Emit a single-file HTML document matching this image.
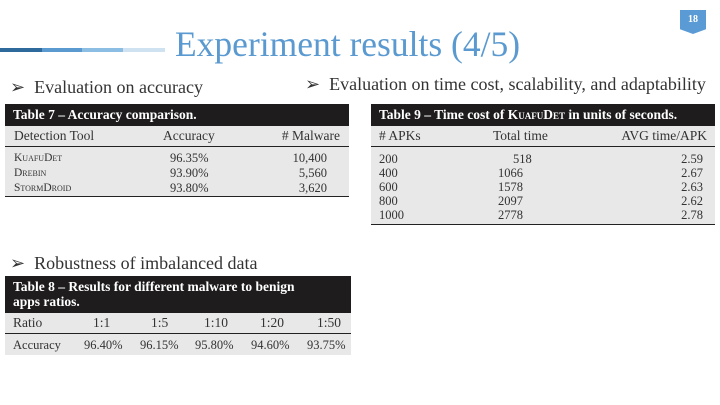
<!DOCTYPE html>
<html><head><meta charset="utf-8"><style>
body{margin:0;width:720px;height:405px;background:#fff;position:relative;overflow:hidden;font-family:"Liberation Serif",serif}
.a{position:absolute}
.tbl{position:absolute;background:#e8e8e8;color:#333;font-size:12.5px}
.cap{background:#1e1c1c;color:#fff;font-weight:bold;font-size:13.5px;padding:3px 8px;line-height:16px}
.row{position:relative;height:15px;line-height:15px}
.row span{position:absolute}
.hdr{height:20px;line-height:20px;border-bottom:1.5px solid #222;font-size:13.5px}
.sc{font-variant:small-caps;font-size:11.5px}
.bul{position:absolute;font-size:18px;color:#333;white-space:nowrap}
.t9 .row{height:14px;line-height:14px}
</style></head><body>
<div class="a" style="left:0;top:48px;width:165px;height:4px">
<div class="a" style="left:0;width:42px;height:4px;background:#2e6a9b"></div>
<div class="a" style="left:42px;width:40px;height:4px;background:#5a9ad0"></div>
<div class="a" style="left:82px;width:41px;height:4px;background:#8cbde3"></div>
<div class="a" style="left:123px;width:42px;height:4px;background:#cfe2f2"></div>
</div>
<div class="a" style="left:175px;top:23px;font-size:35.5px;color:#5a9ad0;white-space:nowrap">Experiment results (4/5)</div>
<div class="a" style="left:680px;top:10px;width:26px;height:24px;background:#5b9bd5;clip-path:polygon(0 0,100% 0,100% 80%,50% 100%,0 80%);color:#fff;font-size:10px;font-weight:bold;text-align:center;line-height:20px">18</div>

<div class="bul" style="left:10px;top:77px">➢&nbsp;&nbsp;Evaluation on accuracy</div>
<div class="bul" style="left:305px;top:74px">➢&nbsp;&nbsp;Evaluation on time cost, scalability, and adaptability</div>
<div class="bul" style="left:10px;top:253px">➢&nbsp;&nbsp;Robustness of imbalanced data</div>

<div class="tbl" style="left:5px;top:104px;width:344px;height:92px;border-bottom:1.5px solid #222">
<div class="cap">Table 7 – Accuracy comparison.</div>
<div class="row hdr"><span style="left:9px">Detection Tool</span><span style="left:158px">Accuracy</span><span style="right:9px"># Malware</span></div>
<div style="height:4px"></div>
<div class="row"><span class="sc" style="left:9px">KuafuDet</span><span style="left:165px">96.35%</span><span style="right:22px">10,400</span></div>
<div class="row"><span class="sc" style="left:9px">Drebin</span><span style="left:165px">93.90%</span><span style="right:22px">5,560</span></div>
<div class="row"><span class="sc" style="left:9px">StormDroid</span><span style="left:165px">93.80%</span><span style="right:22px">3,620</span></div>
</div>

<div class="tbl t9" style="left:371px;top:104px;width:344px;height:120px;border-bottom:1.5px solid #222">
<div class="cap">Table 9 – Time cost of <span style="font-variant:small-caps">KuafuDet</span> in units of seconds.</div>
<div class="row hdr" style="height:20px;line-height:20px"><span style="left:8px"># APKs</span><span style="left:122px">Total time</span><span style="right:8px">AVG time/APK</span></div>
<div style="height:5px"></div>
<div class="row"><span style="left:8px">200</span><span style="left:142px">518</span><span style="right:12px">2.59</span></div>
<div class="row"><span style="left:8px">400</span><span style="left:127px">1066</span><span style="right:12px">2.67</span></div>
<div class="row"><span style="left:8px">600</span><span style="left:127px">1578</span><span style="right:12px">2.63</span></div>
<div class="row"><span style="left:8px">800</span><span style="left:127px">2097</span><span style="right:12px">2.62</span></div>
<div class="row"><span style="left:8px">1000</span><span style="left:127px">2778</span><span style="right:12px">2.78</span></div>
</div>

<div class="tbl" style="left:5px;top:276px;width:346px;height:79px">
<div class="cap" style="line-height:15px;height:31px"><div style="width:310px">Table 8 – Results for different malware to benign apps ratios.</div></div>
<div class="row hdr"><span style="left:8px">Ratio</span><span style="left:88px">1:1</span><span style="left:146px">1:5</span><span style="left:199px">1:10</span><span style="left:255px">1:20</span><span style="left:312px">1:50</span></div>
<div class="row" style="height:22px;line-height:22px"><span style="left:8px">Accuracy</span><span style="left:79px">96.40%</span><span style="left:135px">96.15%</span><span style="left:190px">95.80%</span><span style="left:246px">94.60%</span><span style="left:302px">93.75%</span></div>
</div>
</body></html>
